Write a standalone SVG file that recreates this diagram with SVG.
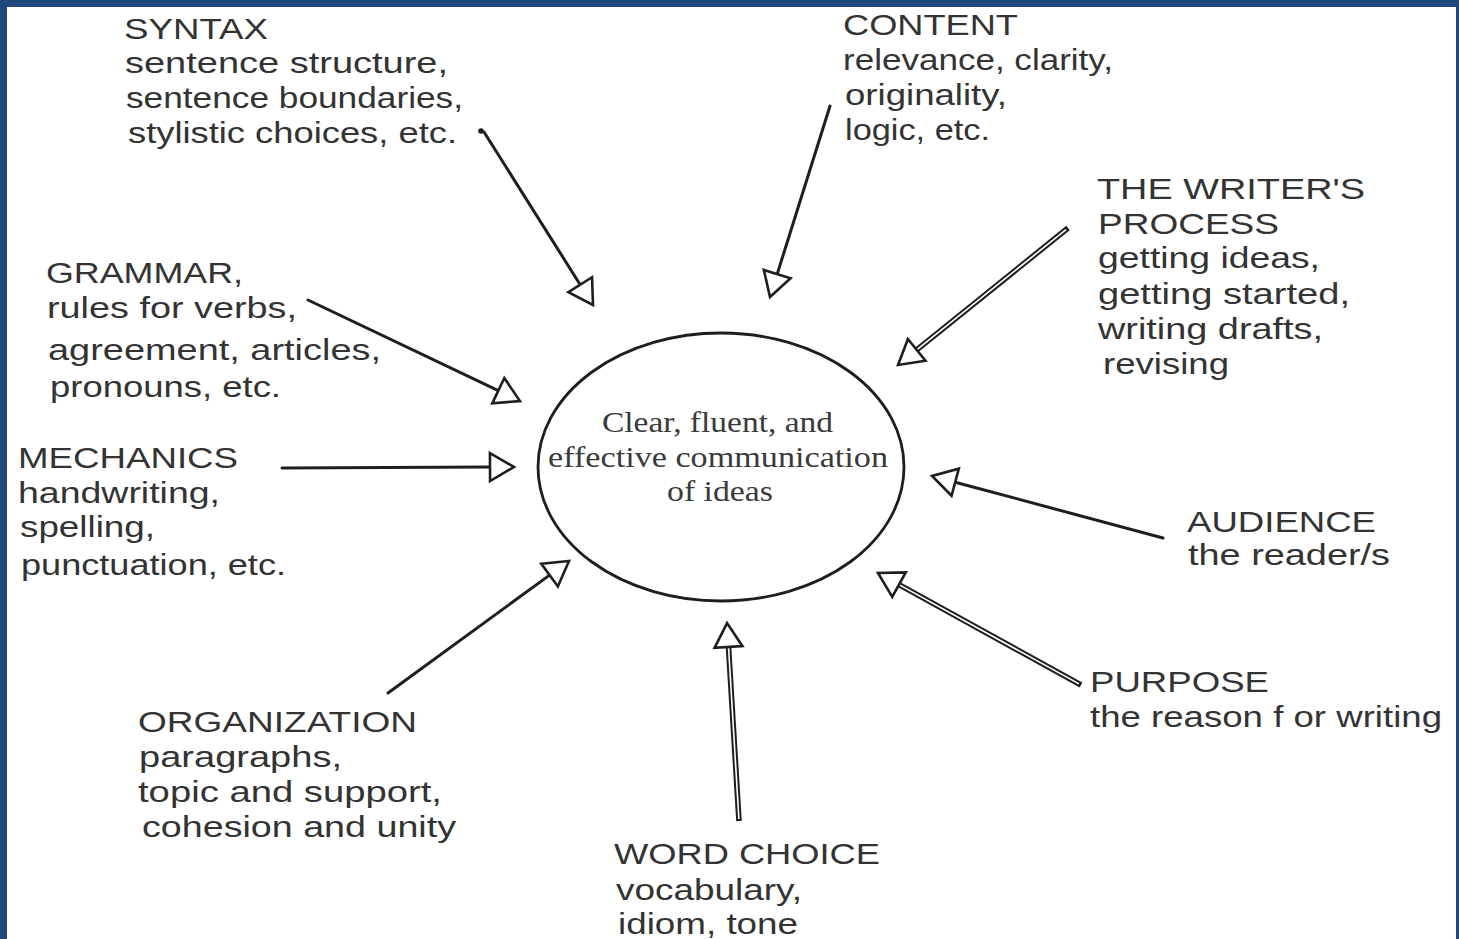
<svg xmlns="http://www.w3.org/2000/svg" width="1459" height="939" viewBox="0 0 1459 939">
  <style>
    .lbl { font-family: "Liberation Sans", Arial, sans-serif; font-size: 30px; fill: #333; }
    .ctr { font-family: "Liberation Serif", "Times New Roman", serif; font-size: 29px; fill: #3a3a3a; }
    .wire { fill: none; stroke: #1e1e1e; stroke-width: 3; stroke-linecap: round; }
    .wire-outer { fill: none; stroke: #1e1e1e; stroke-width: 5.6; stroke-linecap: butt; }
    .wire-inner { fill: none; stroke: #fff; stroke-width: 1.6; stroke-linecap: butt; }
  </style>
  <defs>
    <!-- open triangular head; reference point sits on the base so the shaft stops there -->
    <marker id="head" markerUnits="userSpaceOnUse" viewBox="-3 -17 30 34" markerWidth="30" markerHeight="34" refX="0" refY="0" orient="auto">
      <path d="M0,-14 L24,0 L0,14 Z" fill="#fff" stroke="#1e1e1e" stroke-width="2.6" stroke-linejoin="miter"/>
    </marker>
  </defs>

  <!-- frame -->
  <rect x="0" y="0" width="1459" height="939" fill="#1f497d"/>
  <rect x="7" y="7" width="1449" height="932" fill="#fff"/>

  <!-- central idea -->
  <g id="center">
    <ellipse cx="721" cy="467" rx="183" ry="134" fill="none" stroke="#1e1e1e" stroke-width="2.8"/>
    <text class="ctr" x="602" y="432" textLength="231" lengthAdjust="spacingAndGlyphs">Clear, fluent, and</text>
    <text class="ctr" x="548" y="467" textLength="340" lengthAdjust="spacingAndGlyphs">effective communication</text>
    <text class="ctr" x="667" y="501" textLength="106" lengthAdjust="spacingAndGlyphs">of ideas</text>
  </g>

  <g id="syntax">
    <text class="lbl" x="124" y="39" textLength="144" lengthAdjust="spacingAndGlyphs">SYNTAX</text>
    <text class="lbl" x="125" y="73" textLength="323" lengthAdjust="spacingAndGlyphs">sentence structure,</text>
    <text class="lbl" x="126" y="108" textLength="337" lengthAdjust="spacingAndGlyphs">sentence boundaries,</text>
    <text class="lbl" x="128" y="143" textLength="329" lengthAdjust="spacingAndGlyphs">stylistic choices, etc.</text>
  </g>

  <g id="content">
    <text class="lbl" x="843" y="35" textLength="175" lengthAdjust="spacingAndGlyphs">CONTENT</text>
    <text class="lbl" x="843" y="70" textLength="270" lengthAdjust="spacingAndGlyphs">relevance, clarity,</text>
    <text class="lbl" x="845" y="105" textLength="162" lengthAdjust="spacingAndGlyphs">originality,</text>
    <text class="lbl" x="845" y="140" textLength="145" lengthAdjust="spacingAndGlyphs">logic, etc.</text>
  </g>

  <g id="writers-process">
    <text class="lbl" x="1097" y="199" textLength="268" lengthAdjust="spacingAndGlyphs">THE WRITER'S</text>
    <text class="lbl" x="1098" y="234" textLength="181" lengthAdjust="spacingAndGlyphs">PROCESS</text>
    <text class="lbl" x="1098" y="268" textLength="222" lengthAdjust="spacingAndGlyphs">getting ideas,</text>
    <text class="lbl" x="1098" y="304" textLength="252" lengthAdjust="spacingAndGlyphs">getting started,</text>
    <text class="lbl" x="1098" y="339" textLength="225" lengthAdjust="spacingAndGlyphs">writing drafts,</text>
    <text class="lbl" x="1103" y="374" textLength="126" lengthAdjust="spacingAndGlyphs">revising</text>
  </g>

  <g id="grammar">
    <text class="lbl" x="46" y="283" textLength="197" lengthAdjust="spacingAndGlyphs">GRAMMAR,</text>
    <text class="lbl" x="47" y="318" textLength="250" lengthAdjust="spacingAndGlyphs">rules for verbs,</text>
    <text class="lbl" x="48" y="360" textLength="333" lengthAdjust="spacingAndGlyphs">agreement, articles,</text>
    <text class="lbl" x="50" y="397" textLength="231" lengthAdjust="spacingAndGlyphs">pronouns, etc.</text>
  </g>

  <g id="mechanics">
    <text class="lbl" x="18" y="468" textLength="220" lengthAdjust="spacingAndGlyphs">MECHANICS</text>
    <text class="lbl" x="18" y="503" textLength="202" lengthAdjust="spacingAndGlyphs">handwriting,</text>
    <text class="lbl" x="20" y="537" textLength="135" lengthAdjust="spacingAndGlyphs">spelling,</text>
    <text class="lbl" x="21" y="575" textLength="265" lengthAdjust="spacingAndGlyphs">punctuation, etc.</text>
  </g>

  <g id="organization">
    <text class="lbl" x="138" y="732" textLength="279" lengthAdjust="spacingAndGlyphs">ORGANIZATION</text>
    <text class="lbl" x="139" y="767" textLength="203" lengthAdjust="spacingAndGlyphs">paragraphs,</text>
    <text class="lbl" x="138" y="802" textLength="304" lengthAdjust="spacingAndGlyphs">topic and support,</text>
    <text class="lbl" x="142" y="837" textLength="314" lengthAdjust="spacingAndGlyphs">cohesion and unity</text>
  </g>

  <g id="word-choice">
    <text class="lbl" x="614" y="864" textLength="266" lengthAdjust="spacingAndGlyphs">WORD CHOICE</text>
    <text class="lbl" x="616" y="900" textLength="186" lengthAdjust="spacingAndGlyphs">vocabulary,</text>
    <text class="lbl" x="618" y="934" textLength="180" lengthAdjust="spacingAndGlyphs">idiom, tone</text>
  </g>

  <g id="audience">
    <text class="lbl" x="1187" y="532" textLength="189" lengthAdjust="spacingAndGlyphs">AUDIENCE</text>
    <text class="lbl" x="1188" y="565" textLength="202" lengthAdjust="spacingAndGlyphs">the reader/s</text>
  </g>

  <g id="purpose">
    <text class="lbl" x="1090" y="692" textLength="179" lengthAdjust="spacingAndGlyphs">PURPOSE</text>
    <text class="lbl" x="1090" y="727" textLength="352" lengthAdjust="spacingAndGlyphs">the reason f or writing</text>
  </g>

  <!-- arrows pointing in toward the central idea -->
  <g id="connectors">
    <!-- syntax -->
    <circle cx="481" cy="131" r="2.8" fill="#1e1e1e"/>
    <path class="wire" d="M484,132 L580.2,284.7" marker-end="url(#head)"/>
    <!-- content -->
    <path class="wire" d="M830,106 L777.2,274.1" marker-end="url(#head)"/>
    <!-- the writer's process (hollow shaft) -->
    <path class="wire-outer" d="M1068,228 L916.7,349.9"/>
    <path class="wire-inner" d="M1066,229.6 L916.7,349.9" marker-end="url(#head)"/>
    <!-- grammar -->
    <path class="wire" d="M308,300 L498.3,390.7" marker-end="url(#head)"/>
    <!-- mechanics -->
    <path class="wire" d="M282,468 L490,467.1" marker-end="url(#head)" stroke-width="3.6"/>
    <!-- organization -->
    <path class="wire" d="M388,693 L549.6,575.1" marker-end="url(#head)" stroke-width="3.6"/>
    <!-- word choice (hollow shaft) -->
    <path class="wire-outer" d="M739,821 L728.5,647"/>
    <path class="wire-inner" d="M738.9,819 L728.5,647" marker-end="url(#head)"/>
    <!-- purpose (hollow shaft) -->
    <path class="wire-outer" d="M1081,685 L899,584.6"/>
    <path class="wire-inner" d="M1079,683.9 L899,584.6" marker-end="url(#head)"/>
    <!-- audience -->
    <path class="wire" d="M1163,538 L955.2,482.2" marker-end="url(#head)" stroke-width="3.4"/>
  </g>
</svg>
